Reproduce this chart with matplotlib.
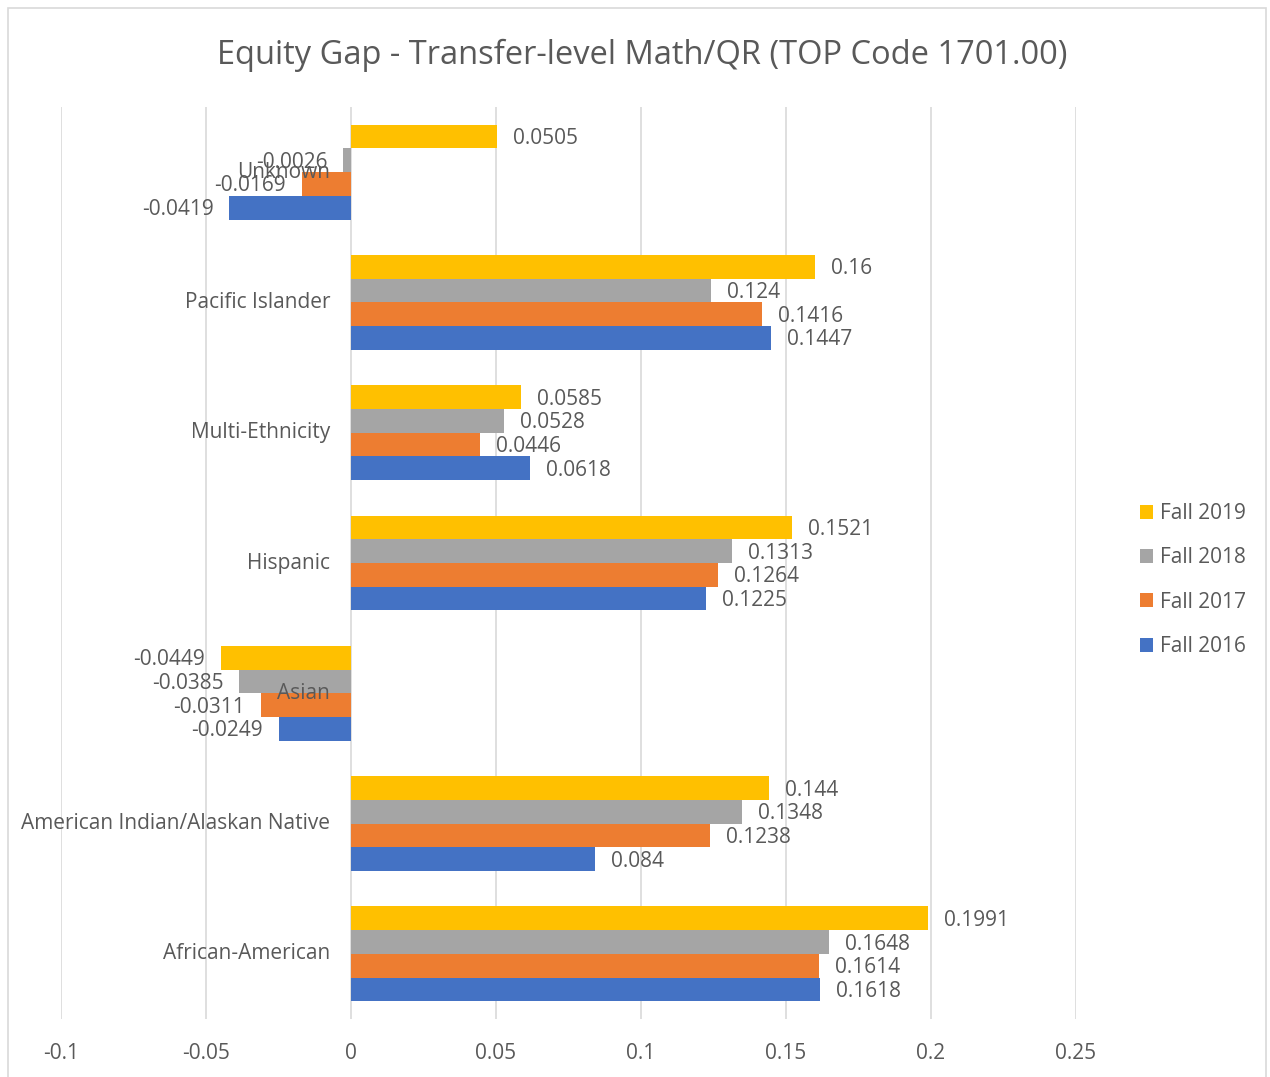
import matplotlib.pyplot as plt
import matplotlib.patches as mpatches
import numpy as np

plt.rcParams['font.family'] = ['Open Sans', 'DejaVu Sans']

# データ（下から順）
groups = ['African-American', 'American Indian/Alaskan Native', 'Asian', 'Hispanic',
          'Multi-Ethnicity', 'Pacific Islander', 'Unknown']
fall_2016 = [0.1618, 0.084, -0.0249, 0.1225, 0.0618, 0.1447, -0.0419]
fall_2017 = [0.1614, 0.1238, -0.0311, 0.1264, 0.0446, 0.1416, -0.0169]
fall_2018 = [0.1648, 0.1348, -0.0385, 0.1313, 0.0528, 0.124, -0.0026]
fall_2019 = [0.1991, 0.144, -0.0449, 0.1521, 0.0585, 0.16, 0.0505]
series_names = ['Fall 2016', 'Fall 2017', 'Fall 2018', 'Fall 2019']
colors = ['#4472C4', '#ED7D31', '#A5A5A5', '#FFC000']
x_ticks = [-0.1, -0.05, 0, 0.05, 0.1, 0.15, 0.2, 0.25]

text_color = '#595959'
grid_color = '#D9D9D9'
fs = 15

fig = plt.figure(figsize=(12.7, 10.77), dpi=100)
ax = fig.add_axes([61 / 1270, 1 - 1019 / 1077, (1076 - 61) / 1270, (1019 - 107) / 1077])

# 枠線
fig.patches.append(mpatches.Rectangle((8 / 1270, -0.01), 1258 / 1270, 1.01 - 8 / 1077,
                                      transform=fig.transFigure, fill=False,
                                      edgecolor=grid_color, linewidth=1.2))

y = np.arange(len(groups))
h = 0.182
all_series = [fall_2016, fall_2017, fall_2018, fall_2019]
bars = []
for i, (vals, name, c) in enumerate(zip(all_series, series_names, colors)):
    pos = y + (i - 1.5) * h
    b = ax.barh(pos, vals, height=h, color=c, label=name, zorder=3)
    bars.append(b)
    for p, v in zip(pos, vals):
        off = 16 if v >= 0 else -16
        ax.annotate(f"{v:g}", xy=(v, p), xytext=(off, -2), textcoords='offset pixels',
                    ha='left' if v >= 0 else 'right', va='center',
                    fontsize=fs, color=text_color, zorder=5)

# カテゴリラベル（軸の位置）
for yy, g in zip(y, groups):
    ax.annotate(g, xy=(0, yy), xytext=(-21, 0), textcoords='offset pixels',
                ha='right', va='center', fontsize=fs, color=text_color, zorder=4)

ax.set_xlim(-0.1, 0.25)
ax.set_ylim(-0.5, len(groups) - 0.5)
ax.set_xticks(x_ticks)
ax.set_xticklabels([f"{t:g}" for t in x_ticks], fontsize=fs, color=text_color)
ax.tick_params(axis='x', length=0, pad=17)
ax.set_yticks([])
for s in ax.spines.values():
    s.set_visible(False)
ax.grid(axis='x', color=grid_color, linewidth=1.2, zorder=0)

fig.text(642 / 1270, 1 - 55 / 1077, 'Equity Gap - Transfer-level Math/QR (TOP Code 1701.00)',
         ha='center', va='center', fontsize=23.5, color=text_color)

handles = bars[::-1]
leg = fig.legend(handles, series_names[::-1], loc='center left',
                 bbox_to_anchor=(1121 / 1270, 1 - 580 / 1077), frameon=False,
                 fontsize=fs, handlelength=0.65, handleheight=0.65, handletextpad=0.3,
                 labelspacing=1.12, labelcolor=text_color)

fig.savefig('out.png', dpi=100)
